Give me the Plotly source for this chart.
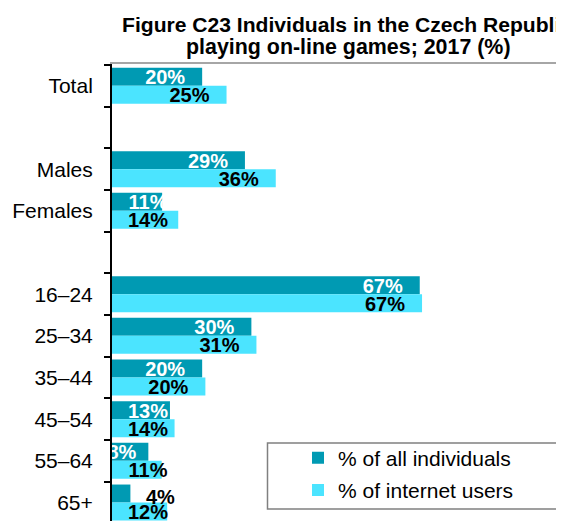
import plotly.graph_objects as go

# ---------------- data ----------------
categories = ["Total", "", "Males", "Females", "", "16–24", "25–34", "35–44", "45–54", "55–64", "65+"]
all_individuals = [19.6, None, 28.9, 10.9, None, 66.9, 30.3, 19.6, 12.6, 7.9, 4.0]
internet_users = [24.9, None, 35.6, 14.4, None, 67.4, 31.4, 20.3, 13.6, 10.8, 12.0]
series_names = ["% of all individuals", "% of internet users"]
title_line1 = "Figure C23 Individuals in the Czech Republi"
title_line2 = "playing on-line games; 2017 (%)"

# ---------------- style / geometry ----------------
W, H = 564, 521
OFFSET = 8                 # page body margin in the browser
ML, MT = 112 - OFFSET, 64 - OFFSET
PX_PER_UNIT = 4.6          # horizontal scale in px per percentage point
SLOT = 41.67               # px per category slot
BARGAP = 0.136
DARK = "#009AB3"
LIGHT = "#4BE4FF"
FONT = "Liberation Sans, Arial, sans-serif"
LABEL_SIZE = 20
TITLE1_SIZE = 21.1
TITLE2_SIZE = 21.4

x_max = (W - ML) / PX_PER_UNIT
y_top = -0.5 - 1 / SLOT
y_bottom = y_top + (H - MT) / SLOT


def px_x(px):
    return (px - OFFSET - ML) / (W - ML)


def px_y(py):
    return (H - (py - OFFSET)) / (H - MT)


# Arial bold glyph widths (em) for label width estimate
GLYPH_W = {"%": 0.889}


def text_width_units(s):
    w = sum(GLYPH_W.get(ch, 0.556) for ch in s)
    return w * LABEL_SIZE / PX_PER_UNIT


PAD_END = 17 / PX_PER_UNIT
PAD_END_SMALL = 12 / PX_PER_UNIT
PAD_START = 16 / PX_PER_UNIT
OUT_PAD = 15.5 / PX_PER_UNIT
LABEL_DY = 0.06
OUT_DY = 0.08


def label_layout(values, inside_color):
    xs, txt, cols, ys = [], [], [], []
    for i, v in enumerate(values):
        if v is None:
            continue
        s = f"{v:.0f}%"
        w = text_width_units(s)
        dy = LABEL_DY
        if v < 5:
            left = v + OUT_PAD
            col = "black"
            dy += OUT_DY
        else:
            left = v - PAD_END - w
            if left < PAD_START:
                if v >= 10:
                    left = PAD_START
                else:
                    left = v - PAD_END_SMALL - w
            col = inside_color
        xs.append(left + w / 2)
        txt.append(s)
        cols.append(col)
        ys.append(i + dy)
    return xs, txt, cols, ys


fig = go.Figure()
idx = list(range(len(categories)))
colors = [DARK, LIGHT]
series = [all_individuals, internet_users]
for k, (name, vals) in enumerate(zip(series_names, series)):
    fig.add_trace(go.Bar(
        y=idx, x=vals, orientation="h", name=name,
        marker=dict(color=colors[k], line=dict(width=0)),
        legendgroup=name, hoverinfo="skip",
    ))

half = (1 - BARGAP) / 4
for k, vals in enumerate(series):
    xs, txt, cols, ys = label_layout(vals, "white" if k == 0 else "black")
    offset = -half if k == 0 else half
    fig.add_trace(go.Scatter(
        x=xs, y=[y + offset for y in ys], mode="text", text=txt,
        textposition="middle center",
        textfont=dict(family=FONT, size=LABEL_SIZE, color=cols, weight="bold"),
        cliponaxis=True, showlegend=False, hoverinfo="skip",
    ))

fig.update_layout(
    width=W, height=H,
    margin=dict(l=ML, r=0, t=MT, b=0, autoexpand=False),
    paper_bgcolor="white", plot_bgcolor="white",
    font=dict(family=FONT, color="black"),
    barmode="group", bargap=BARGAP, bargroupgap=0,
    showlegend=True,
    legend=dict(
        x=px_x(298), y=px_y(437.5), xanchor="left", yanchor="top",
        bgcolor="rgba(0,0,0,0)", borderwidth=0,
        font=dict(family=FONT, size=21, color="black"),
        traceorder="grouped", tracegroupgap=2,
    ),
    xaxis=dict(
        range=[0, x_max], side="top", showline=True, linecolor="#A6A6A6", linewidth=2,
        showticklabels=False, ticks="", showgrid=False, zeroline=False,
    ),
    yaxis=dict(
        range=[y_bottom, y_top], tickmode="array", tickvals=idx, ticktext=categories,
        ticks="outside", ticklen=13, tickcolor="rgba(0,0,0,0)",
        tickfont=dict(family=FONT, size=21, color="black"),
        showline=True, linecolor="black", linewidth=2,
        showgrid=False, zeroline=False,
        minor=dict(tickmode="array", tickvals=[i - 0.5 for i in range(len(categories) + 1)],
                   ticks="outside", ticklen=6, tickwidth=1.5, tickcolor="black", showgrid=False),
    ),
    shapes=[dict(
        type="rect", xref="paper", yref="paper",
        x0=px_x(267.5), x1=px_x(563), y0=px_y(509), y1=px_y(443),
        line=dict(color="#808080", width=1.5), fillcolor="white", layer="above",
    )],
    annotations=[
        dict(text=f"<b>{title_line1}</b>", xref="paper", yref="paper",
             x=px_x(120), y=px_y(25), xanchor="left", yanchor="middle", showarrow=False,
             font=dict(family=FONT, size=TITLE1_SIZE, color="black")),
        dict(text=f"<b>{title_line2}</b>", xref="paper", yref="paper",
             x=px_x(348.5), y=px_y(47), xanchor="center", yanchor="middle", showarrow=False,
             font=dict(family=FONT, size=TITLE2_SIZE, color="black")),
    ],
)

fig.write_html("out.html")
